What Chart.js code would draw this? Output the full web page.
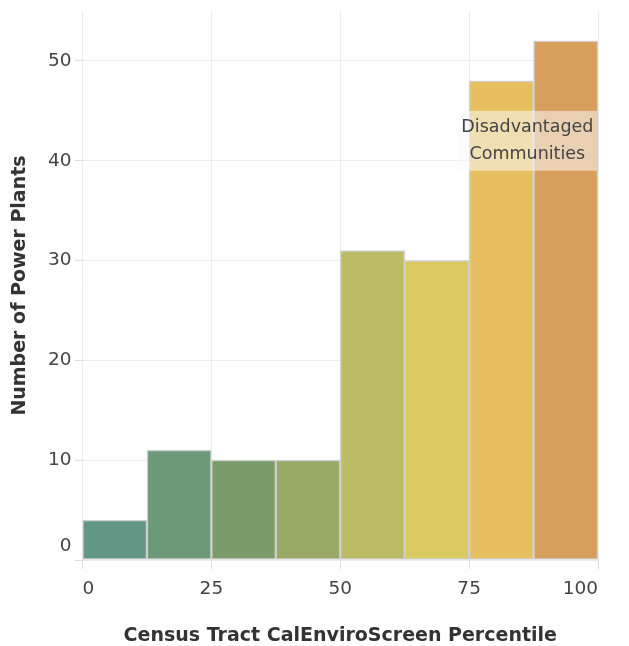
<!DOCTYPE html>
<html>
<head>
<meta charset="utf-8">
<script src="https://cdn.jsdelivr.net/npm/chart.js@4.4.0/dist/chart.umd.min.js"></script>
<style>
  html, body { margin: 0; padding: 0; background: #ffffff; }
  #wrap { width: 629px; height: 646px; position: relative; }
</style>
</head>
<body>
<div id="wrap"><canvas id="c"></canvas></div>
<script>
// ---- data ----
const binStarts = [0, 12.5, 25, 37.5, 50, 62.5, 75, 87.5];
const binWidth = 12.5;
const counts = [4, 11, 10, 10, 31, 30, 48, 52];
const barColors = ['#619784', '#6c9977', '#7c9b6b', '#98aa65', '#bbbc63', '#dac95f', '#e7bf60', '#d89e5c'];
const xTickValues = [0, 25, 50, 75, 100];
const yTickValues = [0, 10, 20, 30, 40, 50];
const xTitle = 'Census Tract CalEnviroScreen Percentile';
const yTitle = 'Number of Power Plants';
const annotationLines = ['Disadvantaged', 'Communities'];

const FONT = '"DejaVu Sans", Inter, sans-serif';

const annotationPlugin = {
  id: 'dacAnnotation',
  afterDatasetsDraw(chart) {
    const {ctx, scales} = chart;
    const x0 = scales.x.getPixelForValue(72.8);
    const x1 = scales.x.getPixelForValue(99.8);
    const y0 = scales.y.getPixelForValue(45);
    const y1 = scales.y.getPixelForValue(39);
    ctx.save();
    ctx.fillStyle = 'rgba(250,250,250,0.55)';
    ctx.fillRect(x0, y0, x1 - x0, y1 - y0);
    ctx.fillStyle = '#444444';
    ctx.font = '17.5px ' + FONT;
    ctx.textAlign = 'center';
    ctx.textBaseline = 'middle';
    const cx = (x0 + x1) / 2;
    const cy = (y0 + y1) / 2;
    const lh = 27;
    annotationLines.forEach((t, i) => {
      ctx.fillText(t, cx, cy + (i - (annotationLines.length - 1) / 2) * lh);
    });
    ctx.restore();
  }
};

const points = counts.map((v, i) => ({x: binStarts[i] + binWidth / 2, y: v}));

new Chart(document.getElementById('c'), {
  type: 'bar',
  data: {
    datasets: [{
      data: points,
      backgroundColor: barColors,
      borderColor: '#cfcfcf',
      borderWidth: 1.5,
      borderSkipped: false,
      barPercentage: 1,
      categoryPercentage: 1
    }]
  },
  options: {
    responsive: true,
    maintainAspectRatio: false,
    animation: false,
    layout: { padding: { top: 11, right: 31, left: 0, bottom: 0 } },
    plugins: { legend: { display: false }, tooltip: { enabled: false } },
    scales: {
      x: {
        type: 'linear',
        min: 0,
        max: 100,
        offset: false,
        afterBuildTicks(scale) { scale.ticks = xTickValues.map(v => ({value: v})); },
        afterFit(scale) { scale.height = 86; scale.paddingLeft = 0; scale.paddingRight = 0; },
        ticks: {
          align: 'inner',
          padding: 9,
          color: '#444444',
          font: { family: FONT, size: 18.5 },
          callback: (v) => String(v)
        },
        grid: { offset: false, color: '#ebebeb', lineWidth: 1, tickLength: 9, tickColor: '#dddddd' },
        border: { display: false },
        title: {
          display: true,
          text: xTitle,
          color: '#333333',
          font: { family: FONT, size: 19, weight: 'bold', lineHeight: 1.0 },
          padding: { top: 0, bottom: 0 }
        }
      },
      y: {
        type: 'linear',
        min: 0,
        max: 55,
        afterBuildTicks(scale) { scale.ticks = yTickValues.map(v => ({value: v})); },
        afterFit(scale) { scale.width = 82.5; scale.paddingTop = 0; scale.paddingBottom = 0; },
        ticks: {
          padding: 3,
          color: '#444444',
          font: { family: FONT, size: 18.5, lineHeight: 1.45 },
          callback: (v) => v === 0 ? ['0', ''] : String(v)
        },
        grid: { color: '#ebebeb', lineWidth: 1, tickLength: 8, tickColor: '#dddddd' },
        border: { display: false },
        title: {
          display: true,
          text: yTitle,
          color: '#333333',
          font: { family: FONT, size: 19, weight: 'bold' },
          padding: { top: 8.5, bottom: 0 }
        }
      }
    }
  },
  plugins: [annotationPlugin]
});
</script>
</body>
</html>
